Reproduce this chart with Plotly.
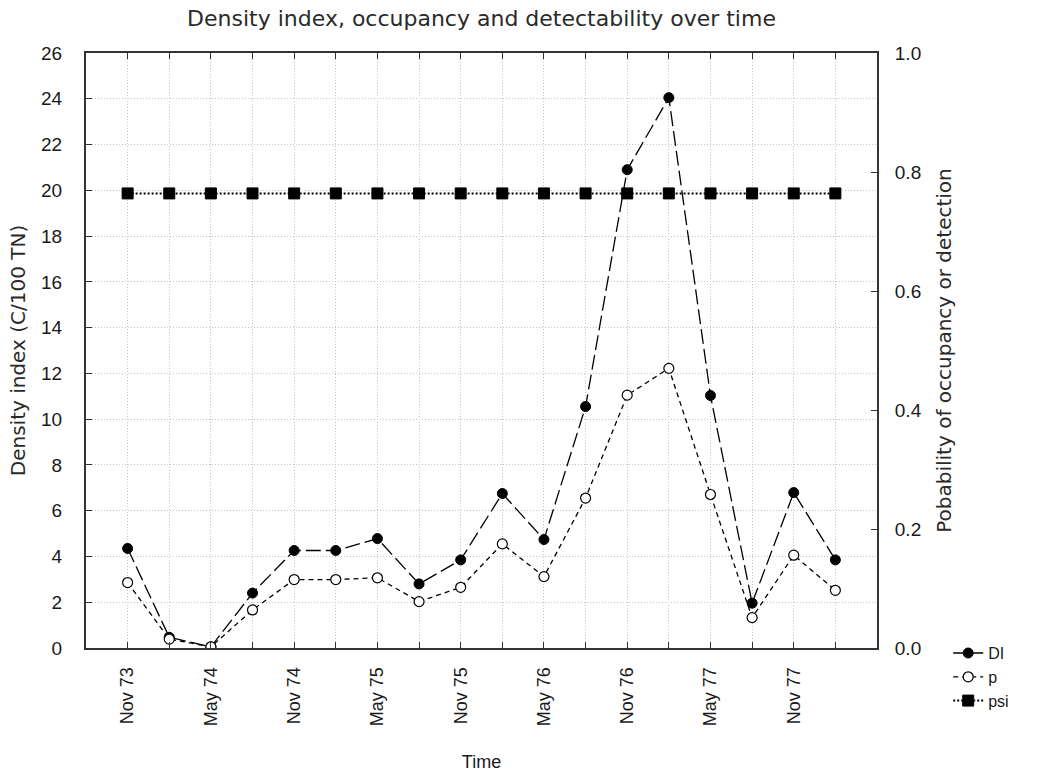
import plotly.graph_objects as go

# ---- data ----
periods = list(range(1, 19))
tick_labels = ["Nov 73", "", "May 74", "", "Nov 74", "", "May 75", "", "Nov 75", "",
               "May 76", "", "Nov 76", "", "May 77", "", "Nov 77", ""]
di = [4.35, 0.47, 0.05, 2.4, 4.26, 4.26, 4.78, 2.8, 3.85, 6.75, 4.74, 10.55,
      20.9, 24.05, 11.03, 1.96, 6.79, 3.85]
p = [0.110, 0.015, 0.002, 0.064, 0.115, 0.115, 0.118, 0.078, 0.102, 0.175, 0.120,
     0.252, 0.425, 0.470, 0.258, 0.051, 0.156, 0.097]
psi = [0.764] * 18

FONT = "Liberation Sans, Arial, sans-serif"
WIDE = "DejaVu Sans, Verdana, sans-serif"
INK = "#1a1a1a"
GRID = "#c4c4c4"

fig = go.Figure()
fig.add_trace(go.Scatter(
    x=periods, y=di, name="DI", yaxis="y",
    mode="lines+markers",
    line=dict(color="black", width=1.3, dash="15px,5px"),
    marker=dict(symbol="circle", size=10, color="black", line=dict(color="black", width=1)),
))
fig.add_trace(go.Scatter(
    x=periods, y=p, name="p", yaxis="y2",
    mode="lines+markers",
    line=dict(color="black", width=1.3, dash="5px,4px"),
    marker=dict(symbol="circle", size=10, color="white", line=dict(color="black", width=1.2)),
))
fig.add_trace(go.Scatter(
    x=periods, y=psi, name="psi", yaxis="y2",
    mode="lines+markers",
    line=dict(color="black", width=2, dash="2px,2px"),
    marker=dict(symbol="square", size=11, color="black", line=dict(color="black", width=1)),
))

fig.update_layout(
    width=1051, height=773,
    margin=dict(l=86, r=174, t=53, b=125),
    paper_bgcolor="white", plot_bgcolor="white",
    font=dict(family=FONT, size=17, color=INK),
    title=dict(text="Density index, occupancy and detectability over time",
               x=(86 + 877) / 2 / 1051, xanchor="center", y=1 - 18 / 773, yanchor="middle",
               font=dict(size=22, family=WIDE, color="#2a2a2a")),
    xaxis=dict(
        range=[0, 19], tickmode="array", tickvals=periods, ticktext=tick_labels,
        tickangle=-90, ticks="inside", ticklen=6, tickcolor="#333",
        showline=True, linecolor="#333", linewidth=2, mirror="ticks",
        showgrid=True, gridcolor=GRID, griddash="1px,2px", gridwidth=1,
        zeroline=False, tickfont=dict(size=18), ticklabelstandoff=10,
        automargin=False,
        title=dict(text="Time", font=dict(size=18, family=FONT), standoff=30),
    ),
    yaxis=dict(
        range=[0, 26], dtick=2, tick0=0, ticks="inside", ticklen=6, tickcolor="#333",
        showline=True, linecolor="#333", linewidth=2,
        showgrid=True, gridcolor=GRID, griddash="1px,2px", gridwidth=1,
        zeroline=False, tickfont=dict(size=19), ticklabelstandoff=18,
        automargin=False,
        title=dict(text="Density index (C/100 TN)", font=dict(size=20, family=WIDE, color="#2a2a2a"), standoff=10),
    ),
    yaxis2=dict(
        range=[0, 1], dtick=0.2, tick0=0, tickformat=".1f", overlaying="y", side="right",
        ticks="inside", ticklen=6, tickcolor="#333",
        showline=True, linecolor="#333", linewidth=2,
        showgrid=False, zeroline=False, tickfont=dict(size=19), ticklabelstandoff=12,
        automargin=False,
        title=dict(text="Pobability of occupancy or detection", font=dict(size=20, family=WIDE, color="#2a2a2a"), standoff=16),
    ),
    legend=dict(x=1.09, y=0.02, xanchor="left", yanchor="top",
                font=dict(size=16), bgcolor="rgba(0,0,0,0)", tracegroupgap=0,
                itemwidth=30),
    showlegend=True,
)

fig.write_html("out.html")
